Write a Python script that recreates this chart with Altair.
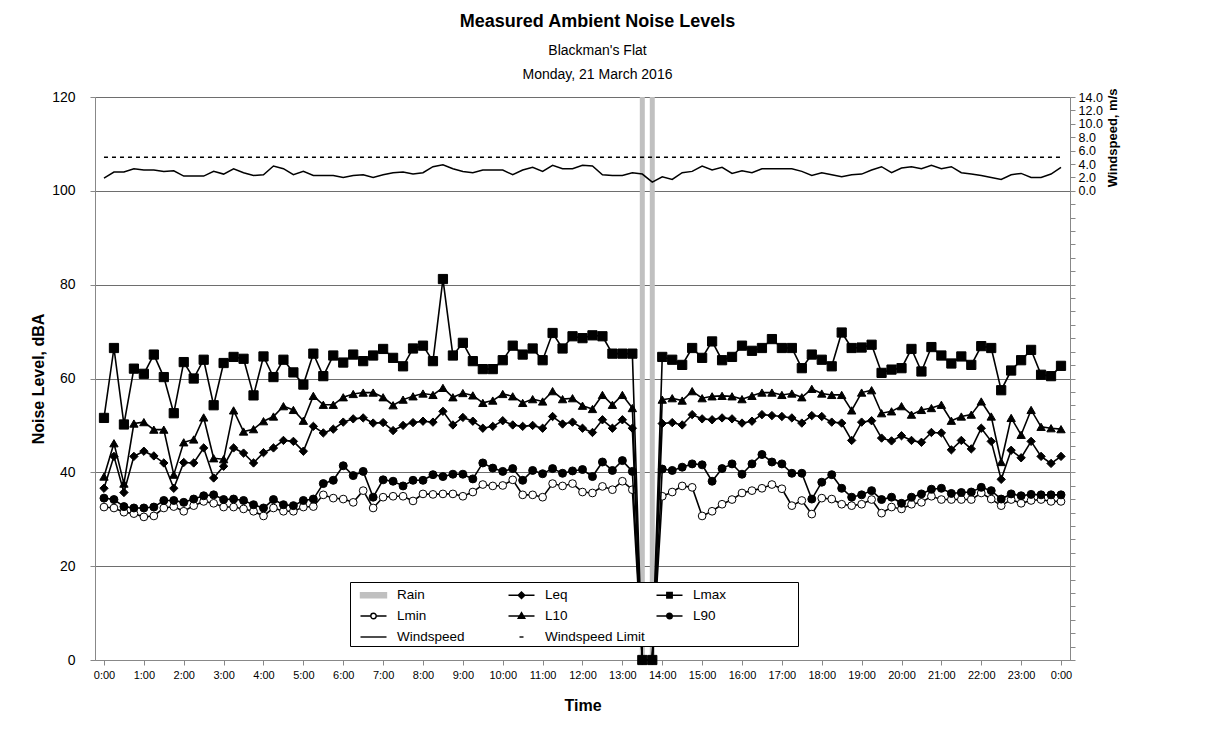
import altair as alt
import pandas as pd

FONT = "Liberation Sans"

# 15-minute intervals, 0:00 .. 24:00 (hours)
hours = [i * 0.25 for i in range(97)]

leq = [36.6, 43.4, 35.7, 43.4, 44.5, 43.5, 42.0, 36.6, 42.1, 42.0,
       45.2, 38.8, 41.3, 45.2, 44.1, 42.0, 44.2, 45.2, 46.8, 46.6,
       44.5, 49.8, 48.4, 49.2, 50.7, 51.4, 51.6, 50.5, 50.6, 48.9,
       50.0, 50.6, 50.9, 50.7, 53.0, 50.1, 51.7, 50.9, 49.4, 49.8,
       51.0, 50.1, 49.8, 50.0, 49.4, 51.9, 50.3, 50.7, 49.4, 48.5,
       51.2, 49.4, 51.2, 49.4, 0.0, 0.0, 50.4, 50.6, 50.1, 52.3,
       51.4, 51.2, 51.6, 51.4, 50.5, 50.9, 52.3, 52.1, 51.9, 51.6,
       50.5, 52.1, 51.9, 50.7, 50.5, 46.8, 50.7, 51.0, 47.3, 46.7,
       47.8, 46.8, 46.4, 48.5, 48.4, 44.8, 46.8, 45.0, 49.4, 46.6,
       38.5, 44.7, 43.1, 46.6, 43.4, 41.9, 43.4]

lmax = [51.6, 66.5, 50.2, 62.1, 61.0, 65.1, 60.3, 52.6, 63.5, 60.0,
        64.0, 54.3, 63.3, 64.6, 64.2, 56.4, 64.7, 60.3, 64.0, 61.3,
        58.7, 65.3, 60.5, 64.9, 63.4, 65.1, 63.7, 64.9, 66.3, 64.4,
        62.6, 66.4, 67.0, 63.7, 81.2, 64.9, 67.6, 63.7, 62.0, 62.0,
        63.9, 67.0, 65.1, 66.4, 63.9, 69.7, 66.4, 69.0, 68.6, 69.2,
        69.0, 65.3, 65.3, 65.3, 0.0, 0.0, 64.6, 64.0, 62.9, 66.5,
        64.4, 67.9, 63.9, 64.6, 67.0, 65.9, 66.5, 68.4, 66.5, 66.5,
        62.2, 65.1, 64.0, 62.6, 69.8, 66.5, 66.6, 67.2, 61.2, 61.9,
        62.2, 66.3, 61.5, 66.7, 64.9, 63.2, 64.7, 62.9, 66.9, 66.5,
        57.5, 61.7, 63.9, 66.1, 60.8, 60.5, 62.7]

l10 = [39.1, 46.2, 37.6, 50.4, 50.7, 49.1, 49.1, 39.5, 46.4, 47.0,
       51.7, 43.0, 42.8, 53.2, 48.7, 49.2, 50.9, 51.9, 54.1, 53.3,
       51.0, 56.3, 54.4, 54.4, 56.0, 56.7, 57.0, 57.0, 56.0, 54.3,
       55.5, 56.2, 56.8, 56.5, 58.0, 56.0, 56.9, 56.4, 54.8, 55.3,
       56.7, 56.2, 54.8, 55.6, 55.1, 57.3, 55.6, 55.8, 54.2, 53.5,
       56.5, 54.4, 56.5, 53.7, 0.0, 0.0, 55.5, 55.8, 55.3, 57.3,
       55.8, 56.2, 56.3, 56.2, 55.6, 56.3, 57.0, 57.0, 56.5, 56.8,
       56.0, 57.8, 56.8, 56.5, 56.5, 53.2, 57.0, 57.5, 52.6, 53.0,
       54.1, 52.3, 53.3, 53.7, 54.4, 51.0, 51.9, 52.3, 55.1, 51.9,
       42.2, 51.6, 48.0, 53.3, 49.7, 49.4, 49.2]

l90 = [34.5, 34.2, 32.7, 32.4, 32.4, 32.6, 34.0, 34.0, 33.6, 34.3,
       35.0, 35.2, 34.2, 34.3, 34.0, 33.1, 32.4, 34.2, 33.1, 32.9,
       34.0, 34.3, 37.6, 38.3, 41.4, 39.3, 40.2, 34.7, 38.4, 38.1,
       37.1, 38.3, 38.3, 39.5, 39.1, 39.6, 39.6, 38.6, 42.0, 40.9,
       40.2, 40.8, 38.3, 40.4, 39.7, 40.8, 39.8, 40.3, 40.6, 39.1,
       42.2, 40.4, 42.5, 40.2, 0.0, 0.0, 40.7, 40.4, 41.1, 41.8,
       41.6, 38.1, 40.8, 41.8, 39.6, 41.8, 43.8, 42.2, 41.8, 39.8,
       39.8, 34.3, 37.9, 39.5, 36.6, 34.7, 35.2, 36.1, 34.2, 34.7,
       33.4, 34.7, 35.4, 36.4, 36.6, 35.5, 35.7, 35.8, 36.8, 36.1,
       34.3, 35.4, 35.0, 35.3, 35.2, 35.2, 35.2]

lmin = [32.6, 32.4, 31.5, 31.2, 30.5, 30.7, 32.4, 32.7, 31.7, 32.9,
        33.8, 33.4, 32.6, 32.6, 32.2, 31.7, 30.7, 32.4, 31.7, 31.7,
        32.6, 32.7, 35.2, 34.5, 34.3, 33.6, 36.1, 32.4, 34.7, 34.9,
        34.9, 33.9, 35.4, 35.3, 35.4, 35.4, 34.9, 35.8, 37.4, 37.1,
        37.2, 38.4, 35.2, 35.2, 34.7, 37.6, 37.1, 37.6, 35.8, 35.6,
        37.0, 36.3, 38.1, 36.3, 0.0, 0.0, 34.9, 35.8, 37.1, 36.8,
        30.7, 31.7, 33.2, 34.2, 35.6, 36.1, 36.6, 37.4, 36.5, 32.9,
        34.0, 31.1, 34.5, 34.3, 33.2, 32.9, 33.2, 34.2, 31.3, 32.6,
        32.2, 33.2, 33.6, 34.9, 34.2, 34.2, 34.2, 34.2, 35.6, 34.3,
        32.9, 34.2, 33.4, 34.0, 34.2, 33.8, 33.8]

windspeed = [1.9, 2.8, 2.8, 3.3, 3.1, 3.1, 2.9, 3.0, 2.2, 2.2,
             2.2, 2.9, 2.5, 3.3, 2.7, 2.3, 2.4, 3.7, 3.3, 2.4,
             2.9, 2.3, 2.3, 2.3, 2.0, 2.3, 2.4, 2.0, 2.4, 2.7,
             2.8, 2.5, 2.7, 3.6, 3.9, 3.3, 2.9, 2.7, 3.1, 3.1,
             3.1, 2.4, 3.1, 3.5, 2.9, 3.8, 3.3, 3.3, 3.8, 3.7,
             2.4, 2.3, 2.3, 2.7, 2.5, 1.3, 2.1, 1.7, 2.7, 2.9,
             3.7, 3.1, 3.5, 2.6, 3.0, 2.7, 3.3, 3.3, 3.3, 3.3,
             2.9, 2.3, 2.7, 2.4, 2.1, 2.4, 2.5, 3.1, 3.6, 2.7,
             3.4, 3.6, 3.3, 3.8, 3.3, 3.6, 2.7, 2.5, 2.3, 2.0,
             1.7, 2.4, 2.6, 2.0, 2.0, 2.5, 3.5]

windspeed_limit = [5.0] * 97

rain = [0.0] * 54 + [120.0, 120.0] + [0.0] * 41

legend_names = ["Rain", "Leq", "Lmax", "Lmin", "L10", "L90", "Windspeed", "Windspeed Limit"]
# legend symbol glyphs (line + marker), unit = sqrt(symbolSize)/2;
# the trailing move-to sets a common entry width for the legend grid
CELL = "M13.35,0"
legend_paths = [
    "M-0.25,-0.25H2.35V0.25H-0.25Z" + CELL,
    "M-0.25,0H2.35M1.05,-0.33L1.38,0L1.05,0.33L0.72,0Z" + CELL,
    "M-0.25,0H2.35M0.78,-0.27H1.32V0.27H0.78Z" + CELL,
    "M-0.25,0H0.78M1.32,0H2.35M0.78,0A0.27,0.27 0 1 0 1.32,0A0.27,0.27 0 1 0 0.78,0Z" + CELL,
    "M-0.25,0H2.35M1.05,-0.34L1.38,0.22L0.72,0.22Z" + CELL,
    "M-0.25,0H0.77M1.33,0H2.35M0.77,0A0.28,0.28 0 1 0 1.33,0A0.28,0.28 0 1 0 0.77,0Z" + CELL,
    "M-0.25,0H2.35" + CELL,
    "M0.85,0H1.25" + CELL,
]
legend_stroke = ["#c0c0c0"] + ["black"] * 7
legend_fill = ["#c0c0c0", "black", "black", "white", "black", "black", "black", "black"]

df = pd.DataFrame({
    "hour": hours, "Leq": leq, "Lmax": lmax, "L10": l10, "L90": l90, "Lmin": lmin,
    "Windspeed": windspeed, "Limit": windspeed_limit, "Rain": rain,
})

GRID = "#6e6e6e"
AXC = "#808080"

x_axis = alt.Axis(values=list(range(25)), labelExpr="(floor(datum.value) % 24) + ':00'",
                  grid=False, tickSize=5, labelFontSize=11, labelPadding=4,
                  titleFontSize=16, titleFontWeight="bold", titlePadding=17,
                  labelFlush=False, labelOverlap=False)
X = alt.X("hour:Q", scale=alt.Scale(domain=[-0.1, 24.1], nice=False, zero=False),
          axis=x_axis, title="Time")

y_scale = alt.Scale(domain=[0, 120], nice=False, zero=True)
y_axis = alt.Axis(values=[0, 20, 40, 60, 80, 100, 120], grid=True, gridColor=GRID,
                  tickSize=5, labelFontSize=14, labelPadding=15,
                  titleFontSize=16, titleFontWeight="bold", titlePadding=5)
Y_TITLE = "Noise Level, dBA"

base = alt.Chart(df)

rain_layer = base.mark_bar(color="#c0c0c0", size=5).transform_filter(
    "datum.Rain > 0").encode(x=X, y=alt.Y("Rain:Q", scale=y_scale, axis=y_axis, title=Y_TITLE))


def series(col, shape, fill, size):
    return base.mark_line(
        color="black", strokeWidth=1.6,
        point=alt.OverlayMarkDef(shape=shape, filled=True, fill=fill, stroke="black",
                                 strokeWidth=1, size=size, opacity=1),
    ).encode(x=X, y=alt.Y(f"{col}:Q", scale=y_scale, axis=y_axis, title=Y_TITLE))


lmin_layer = series("Lmin", "circle", "white", 60)
l90_layer = series("L90", "circle", "black", 64)
leq_layer = series("Leq", "diamond", "black", 70)
l10_layer = series("L10", "triangle-up", "black", 70)
lmax_layer = series("Lmax", "square", "black", 85)

leg = alt.Legend(title=None, orient="none", legendX=255, legendY=485, columns=3,
                 direction="horizontal", symbolSize=400, symbolStrokeWidth=1.4,
                 labelFontSize=13.5, labelFont=FONT, labelColor="black", labelLimit=400,
                 padding=2, strokeColor="black", fillColor="white", gridAlign="all",
                 columnPadding=0, rowPadding=3, labelOffset=23, symbolOpacity=1)

legend_layer = alt.Chart(pd.DataFrame({"series": legend_names})).mark_point(
    filled=True).transform_filter("datum.series == 'none'").encode(
    shape=alt.Shape("series:N", scale=alt.Scale(domain=legend_names, range=legend_paths), legend=leg),
    stroke=alt.Stroke("series:N", scale=alt.Scale(domain=legend_names, range=legend_stroke), legend=leg),
    fill=alt.Fill("series:N", scale=alt.Scale(domain=legend_names, range=legend_fill), legend=leg),
)

left = alt.layer(rain_layer, lmin_layer, l90_layer, leq_layer, l10_layer, lmax_layer, legend_layer)

r_scale = alt.Scale(domain=[-70, 14], nice=False, zero=False)
r_axis = alt.Axis(orient="right", values=list(range(-70, 15, 2)),
                  labelExpr="datum.value >= 0 ? format(datum.value, '.1f') : ''",
                  grid=False, tickSize=5, labelFontSize=12.5, labelPadding=3,
                  labelOverlap=False, labelFlush=False,
                  titleFontSize=13, titleFontWeight="bold", titleAngle=270,
                  titleAlign="right", titleBaseline="top", titleY=-9, titlePadding=4)
R_TITLE = "Windspeed, m/s"

wind_layer = base.mark_line(color="black", strokeWidth=1.5).encode(
    x=X, y=alt.Y("Windspeed:Q", scale=r_scale, axis=r_axis, title=R_TITLE))
limit_layer = base.mark_line(color="black", strokeWidth=1.5, strokeDash=[4, 4]).encode(
    x=X, y=alt.Y("Limit:Q", scale=r_scale, axis=r_axis, title=R_TITLE))

right = alt.layer(wind_layer, limit_layer)

chart = alt.layer(left, right).resolve_scale(y="independent").properties(
    width=975, height=563,
    padding={"left": 22, "top": 5, "right": 5, "bottom": 5},
    title=alt.TitleParams(
        text="Measured Ambient Noise Levels",
        subtitle=["Blackman's Flat", "Monday, 21 March 2016"],
        fontSize=18, fontWeight="bold", font=FONT, color="black",
        subtitleFontSize=14, subtitleFont=FONT, subtitleColor="black",
        subtitlePadding=13, subtitleLineHeight=24, offset=6, anchor="middle", dx=15,
    ),
).configure_view(stroke=AXC, strokeWidth=1).configure_axis(
    labelFont=FONT, titleFont=FONT, labelColor="black", titleColor="black",
    domainColor=AXC, tickColor=AXC,
).configure(background="white")

chart.save("out.html", embed_options={"renderer": "svg", "actions": False})
